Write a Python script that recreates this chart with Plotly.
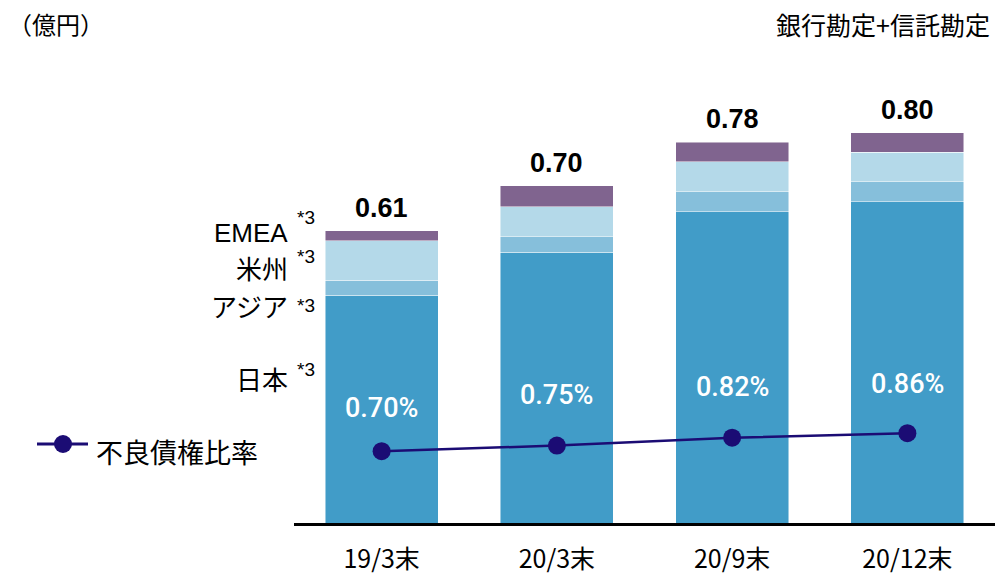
import plotly.graph_objects as go

# Period-end categories
periods = ["19/3末", "20/3末", "20/9末", "20/12末"]

# Balance by region (stacked from the bottom)
japan = [0.488, 0.570, 0.647, 0.666]
asia = [0.028, 0.029, 0.038, 0.038]
americas = [0.075, 0.057, 0.057, 0.056]
emea = [0.019, 0.040, 0.037, 0.037]

# Non-performing loan ratio (%)
npl_ratio = [0.70, 0.75, 0.82, 0.86]

totals = [round(a + b + c + d, 3) for a, b, c, d in zip(japan, asia, americas, emea)]

C_JAPAN = "#419CC8"
C_ASIA = "#86BFDB"
C_AMERICAS = "#B4D9E9"
C_EMEA = "#80648F"
C_LINE = "#1B0C74"

W, H = 998, 577
ML, MR, MT, MB = 294, 3, 60, 54
PW, PH = W - ML - MR, H - MT - MB


def px(x):
    return (x - ML) / PW


def py(y):
    return (H - MB - y) / PH


JP = "Noto Sans CJK JP"
LAT = "Liberation Sans, Arial, Noto Sans CJK JP"

fig = go.Figure()
for name, vals, col in [("日本", japan, C_JAPAN), ("アジア", asia, C_ASIA),
                        ("米州", americas, C_AMERICAS), ("EMEA", emea, C_EMEA)]:
    fig.add_bar(x=periods, y=vals, name=name, marker_color=col,
                marker_line=dict(color="rgba(255,255,255,0.6)", width=0.8),
                showlegend=False, hoverinfo="skip")

fig.add_scatter(x=periods, y=npl_ratio, yaxis="y2", mode="lines+markers",
                name="不良債権比率", line=dict(color=C_LINE, width=2.5),
                marker=dict(size=18, color=C_LINE), showlegend=False)

ann = []
# Totals above each bar
for p, t in zip(periods, totals):
    ann.append(dict(x=p, y=t, xref="x", yref="y", text=f"{t:.2f}", showarrow=False,
                    yanchor="middle", yshift=23,
                    font=dict(family=LAT, size=27, color="black", weight="bold")))

# Ratio labels above the line markers
label_lift = [43, 51, 51, 49]
for p, r, lift in zip(periods, npl_ratio, label_lift):
    ann.append(dict(x=p, y=r, xref="x", yref="y2", text=f"{r:.2f}%", showarrow=False,
                    yanchor="middle", yshift=lift,
                    font=dict(family="Roboto, " + LAT, size=27,
                              color="white", weight=500)))

# Region labels to the left of the first bar
region_labels = [("EMEA", 233, 217), ("米州", 270, 256), ("アジア", 308, 305), ("日本", 381, 369)]
for txt, yc, ys in region_labels:
    ann.append(dict(x=px(290), y=py(yc), xref="paper", yref="paper", text=txt,
                    showarrow=False, xanchor="right", yanchor="middle",
                    font=dict(family=LAT, size=26, color="black")))
    ann.append(dict(x=px(295), y=py(ys), xref="paper", yref="paper", text="*3",
                    showarrow=False, xanchor="left", yanchor="middle",
                    font=dict(family=LAT, size=19, color="black")))

# Line legend entry
ann.append(dict(x=px(94), y=py(451), xref="paper", yref="paper", text="不良債権比率",
                showarrow=False, xanchor="left", yanchor="middle",
                font=dict(family=JP, size=27, color="black")))

# Headers
ann.append(dict(x=px(6), y=py(24), xref="paper", yref="paper", text="（億円）",
                showarrow=False, xanchor="left", yanchor="middle",
                font=dict(family=JP, size=24, color="black")))
ann.append(dict(x=px(992), y=py(24), xref="paper", yref="paper", text="銀行勘定+信託勘定",
                showarrow=False, xanchor="right", yanchor="middle",
                font=dict(family=JP, size=25, color="black")))

shapes = [
    dict(type="line", xref="paper", yref="paper", x0=px(37), x1=px(88), y0=py(444), y1=py(444),
         line=dict(color=C_LINE, width=3)),
    dict(type="circle", xref="paper", yref="paper", xsizemode="pixel", ysizemode="pixel",
         xanchor=px(63), yanchor=py(444), x0=-9, x1=9, y0=-9, y1=9,
         fillcolor=C_LINE, line=dict(color=C_LINE, width=0)),
]

fig.update_layout(
    width=W, height=H,
    margin=dict(l=ML, r=MR, t=MT, b=MB, pad=0),
    barmode="stack", bargap=0.355,
    plot_bgcolor="white", paper_bgcolor="white",
    annotations=ann, shapes=shapes,
    xaxis=dict(showline=True, linecolor="black", linewidth=2.5, showgrid=False,
               ticks="", ticklabelstandoff=12, automargin=False,
               tickfont=dict(family=JP, size=25, color="black")),
    yaxis=dict(range=[0.055, 0.935], visible=False, showgrid=False, automargin=False),
    yaxis2=dict(range=[0.062, 4.178], overlaying="y", visible=False, showgrid=False,
                automargin=False),
)

fig.write_html("out.html")
